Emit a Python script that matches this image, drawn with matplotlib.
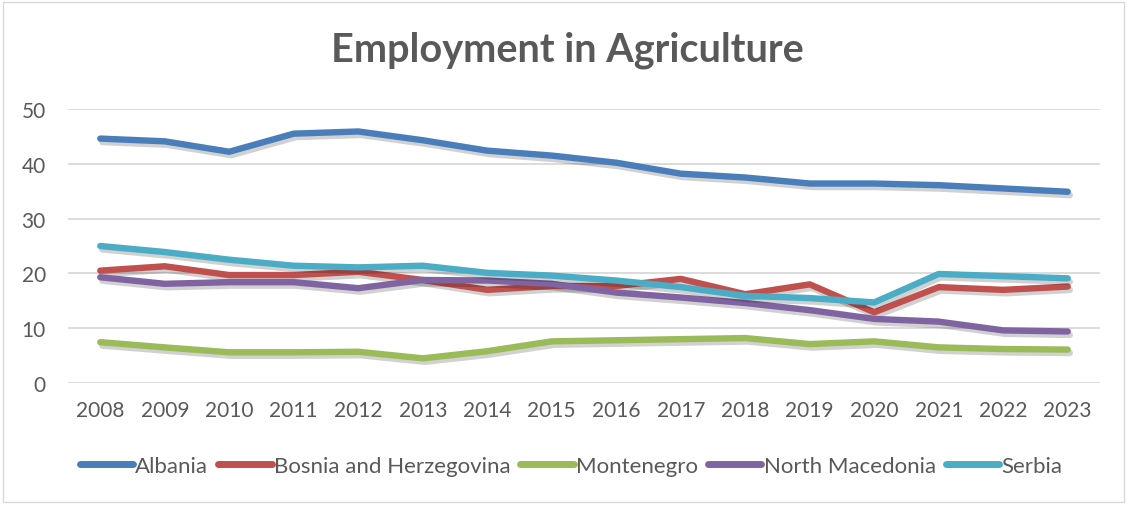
import matplotlib
matplotlib.use("Agg")
import matplotlib.pyplot as plt
import matplotlib.patheffects as pe
from matplotlib.patches import Rectangle

years = ["2008", "2009", "2010", "2011", "2012", "2013", "2014", "2015",
         "2016", "2017", "2018", "2019", "2020", "2021", "2022", "2023"]
albania = [44.6, 44.1, 42.2, 45.5, 45.9, 44.3, 42.4, 41.5, 40.2, 38.2, 37.5, 36.4, 36.4, 36.1, 35.5, 34.9]
bosnia = [20.5, 21.3, 19.7, 19.7, 20.3, 18.8, 17.0, 17.7, 17.7, 19.0, 16.2, 18.0, 12.9, 17.5, 17.0, 17.6]
montenegro = [7.45, 6.5, 5.6, 5.6, 5.7, 4.5, 5.8, 7.6, 7.8, 8.0, 8.2, 7.1, 7.6, 6.5, 6.2, 6.1]
macedonia = [19.3, 18.1, 18.4, 18.4, 17.3, 18.8, 18.7, 18.1, 16.5, 15.6, 14.6, 13.3, 11.7, 11.2, 9.6, 9.4]
serbia = [25.0, 23.9, 22.5, 21.4, 21.1, 21.4, 20.1, 19.6, 18.7, 17.5, 15.9, 15.5, 14.7, 19.9, 19.5, 19.1]

series = [
    ("Albania", albania, "#4a7ebb"),
    ("Bosnia and Herzegovina", bosnia, "#c0504d"),
    ("Montenegro", montenegro, "#9bbb59"),
    ("North Macedonia", macedonia, "#8064a2"),
    ("Serbia", serbia, "#4bacc6"),
]

plt.rcParams['font.family'] = ['Lato', 'DejaVu Sans']
text_color = "#595959"

fig = plt.figure(figsize=(11.27, 5.06), dpi=100)
ax = fig.add_axes([68/1127, 1-384/506, (1100-68)/1127, (384-110)/506])

x = list(range(len(years)))
handles = []
for name, vals, col in series:
    ln, = ax.plot(x, vals, color=col, lw=4.6, solid_capstyle='round', solid_joinstyle='round',
                  label=name,
                  path_effects=[pe.SimpleLineShadow(offset=(1.5, -2.5), shadow_color='black', alpha=0.18),
                                pe.Normal()])
    handles.append(ln)

ax.set_xlim(-0.5, len(years) - 0.5)
ax.set_ylim(0, 50)
ax.set_yticks([0, 10, 20, 30, 40, 50])
ax.set_xticks(x)
ax.set_xticklabels(years)
ax.grid(axis='y', color='#d9d9d9', lw=1.3)
ax.set_axisbelow(True)
for s in ax.spines.values():
    s.set_visible(False)
ax.tick_params(axis='both', length=0, labelsize=15, labelcolor=text_color)
ax.tick_params(axis='x', pad=12)
ax.tick_params(axis='y', pad=16)

fig.text(567/1127, 1-50/506, "Employment in Agriculture", ha='center', va='center',
         fontsize=28.5, fontweight='bold', color=text_color)

leg = fig.legend(handles=handles, loc='center', bbox_to_anchor=(571/1127, 1-467/506), ncol=5,
                 frameon=False, fontsize=16, handlelength=2.4, handletextpad=0.1,
                 columnspacing=0.45, labelcolor=text_color)
for h in leg.get_lines():
    h.set_path_effects([])
    h.set_linewidth(5)

fig.patches.append(Rectangle((3/1127, 3/506), 1-6/1127, 1-6/506, transform=fig.transFigure,
                             fill=False, edgecolor='#d9d9d9', lw=1))

fig.savefig("out.png", dpi=100)
